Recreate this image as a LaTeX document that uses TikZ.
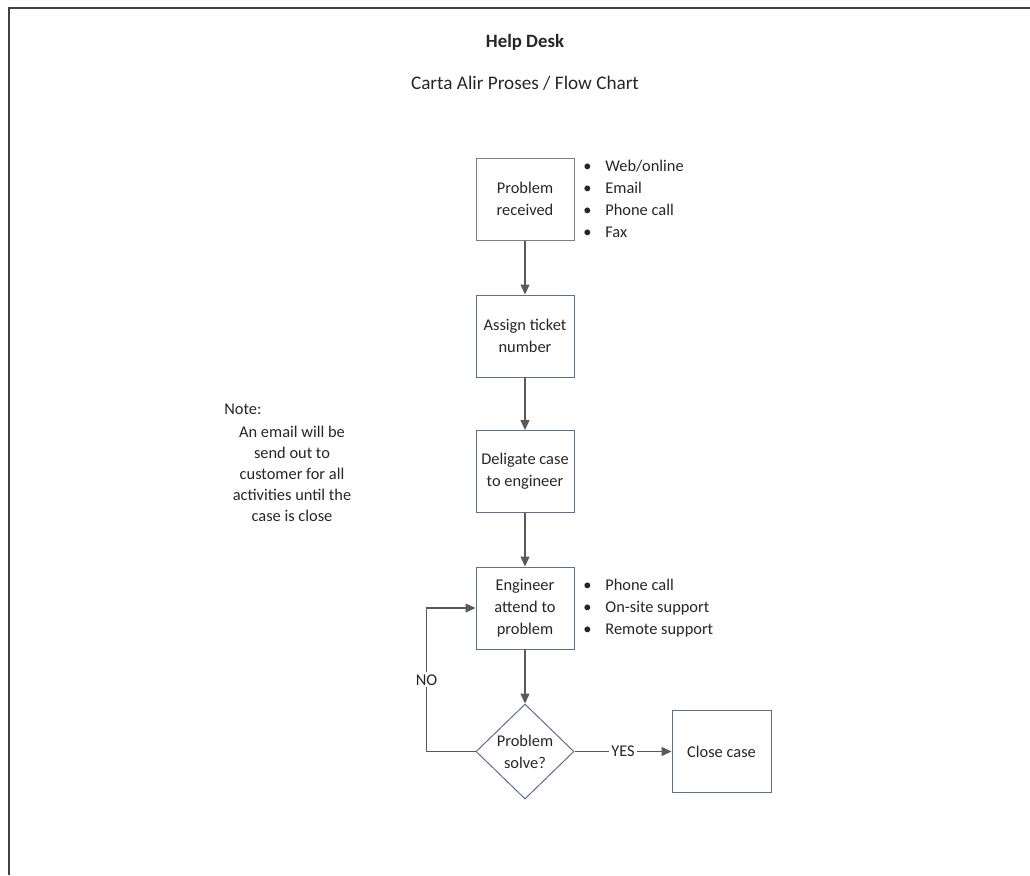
\documentclass[tikz,border=0pt]{standalone}
\usepackage{fontspec}
\setmainfont{Carlito}
\usetikzlibrary{shapes.geometric,arrows.meta,positioning}
\definecolor{ink}{HTML}{262626}
\definecolor{frame}{HTML}{404040}
\definecolor{greyline}{HTML}{7F7F7F}
\definecolor{blueline}{HTML}{5A7090}
\definecolor{arrowc}{HTML}{595959}
\newcommand{\bul}{\makebox[11pt][l]{\textbullet}}
\tikzset{
  txt/.style={font=\fontsize{8.2}{11}\selectfont,text=ink},
  proc/.style={txt,draw=blueline,line width=0.5pt,fill=white,align=center,
    inner sep=0pt,minimum width=49pt,minimum height=41pt},
  decide/.style={txt,diamond,draw=blueline,line width=0.5pt,fill=white,align=center,
    inner sep=0pt,aspect=1,minimum width=49pt,minimum height=47.5pt},
  blist/.style={txt,anchor=west,align=left,inner sep=0pt},
  flow/.style={arrowc,line width=0.65pt,-{Triangle[length=5pt,width=4.5pt]}},
  tag/.style={txt,fill=white,inner sep=1pt},
}
\begin{document}
\begin{tikzpicture}[x=0.5pt,y=-0.5pt]
  \useasboundingbox (0,0) rectangle (1030,875);
  % ===================== frame and titles =====================
  \draw[frame,line width=0.75pt] (1030,8) -- (9,8) -- (9,875);
  \node[txt,font=\fontsize{9.4}{12}\selectfont\bfseries] (title) at (525,42) {Help Desk};
  \node[txt,font=\fontsize{9.6}{12}\selectfont] (subtitle) at (525,83) {Carta Alir Proses / Flow Chart};
  % ===================== process boxes =====================
  \node[proc,draw=greyline] (recv) at (525,199) {Problem\\received};
  \node[proc] (assign) at (525,336) {Assign ticket\\number};
  \node[proc] (deleg) at (525,471.5) {Deligate case\\to engineer};
  \node[proc] (attend) at (525,608) {Engineer\\attend to\\problem};
  \node[decide] (solved) at (525,751.5) {Problem\\solve?};
  \node[proc,minimum width=49.5pt] (close) at (721.5,751.5) {Close case};
  % ===================== side lists and note =====================
  \node[blist] (recvlist) at (583,199)
    {\bul Web/online\\ \bul Email\\ \bul Phone call\\ \bul Fax};
  \node[blist] (attendlist) at (583,608)
    {\bul Phone call\\ \bul On-site support\\ \bul Remote support};
  \node[txt,anchor=west,inner sep=0pt] (notehead) at (224,409) {Note:};
  \node[txt,align=center,inner sep=0pt,font=\fontsize{8.2}{10.5}\selectfont] (notebody) at (292,474)
    {An email will be\\send out to\\customer for all\\activities until the\\case is close};
  % ===================== connectors =====================
  \draw[flow] (recv) -- (assign);
  \draw[flow] (assign) -- (deleg);
  \draw[flow] (deleg) -- (attend);
  \draw[flow] (attend) -- (solved);
  \draw[flow] (solved.east) -- node[tag] {YES} (close.west);
  \draw[flow] (solved.west) -- ++(-49,0) |- node[tag,pos=0.25] {NO} (attend.west);
\end{tikzpicture}
\end{document}
